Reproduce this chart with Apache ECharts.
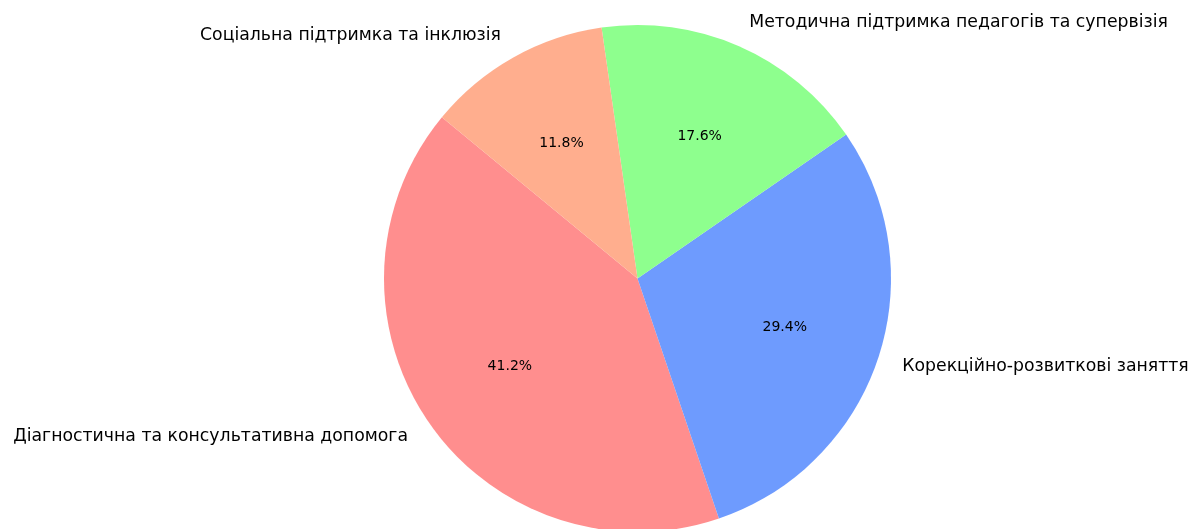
<!DOCTYPE html>
<html>
<head>
<meta charset="utf-8">
<script src="https://cdn.jsdelivr.net/npm/echarts@6/dist/echarts.min.js"></script>
<style>
html,body{margin:0;padding:0;background:#fff;}
#chart{width:1192px;height:529px;}
</style>
</head>
<body>
<div id="chart"></div>
<script>
const categories = [
  "Діагностична та консультативна допомога",
  "Корекційно-розвиткові заняття",
  "Методична підтримка педагогів та супервізія",
  "Соціальна підтримка та інклюзія"
];
const values = [7, 5, 3, 2];
const colors = ["#ff8e8e", "#6e9bfe", "#8eff8e", "#ffae8e"];

const R = 253.5;
const CENTER = [637.5, 278.5];
const FONT = "DejaVu Sans";

const chart = echarts.init(document.getElementById('chart'), null, {renderer: 'canvas'});
chart.setOption({
  animation: false,
  backgroundColor: '#ffffff',
  series: [
    {
      type: 'pie',
      center: CENTER,
      radius: [0, R],
      startAngle: 140.5,
      clockwise: false,
      avoidLabelOverlap: false,
      silent: true,
      data: categories.map((c, i) => ({name: c, value: values[i], itemStyle: {color: colors[i]}})),
      itemStyle: {borderWidth: 0},
      label: {
        show: true,
        position: 'outside',
        formatter: '{b}',
        fontFamily: FONT,
        fontSize: 17.3,
        color: '#000',
        distanceToLabelLine: 0
      },
      labelLine: {show: false, length: R * 0.1, length2: 0}
    },
    {
      type: 'pie',
      center: CENTER,
      radius: [R * 0.2, R],
      startAngle: 140.5,
      clockwise: false,
      avoidLabelOverlap: false,
      silent: true,
      percentPrecision: 1,
      data: categories.map((c, i) => ({name: c, value: values[i]})),
      itemStyle: {color: 'rgba(0,0,0,0)', borderWidth: 0},
      label: {
        show: true,
        position: 'inside',
        formatter: '{d}%',
        fontFamily: FONT,
        fontSize: 14,
        color: '#000'
      },
      labelLine: {show: false}
    }
  ]
});
</script>
</body>
</html>
